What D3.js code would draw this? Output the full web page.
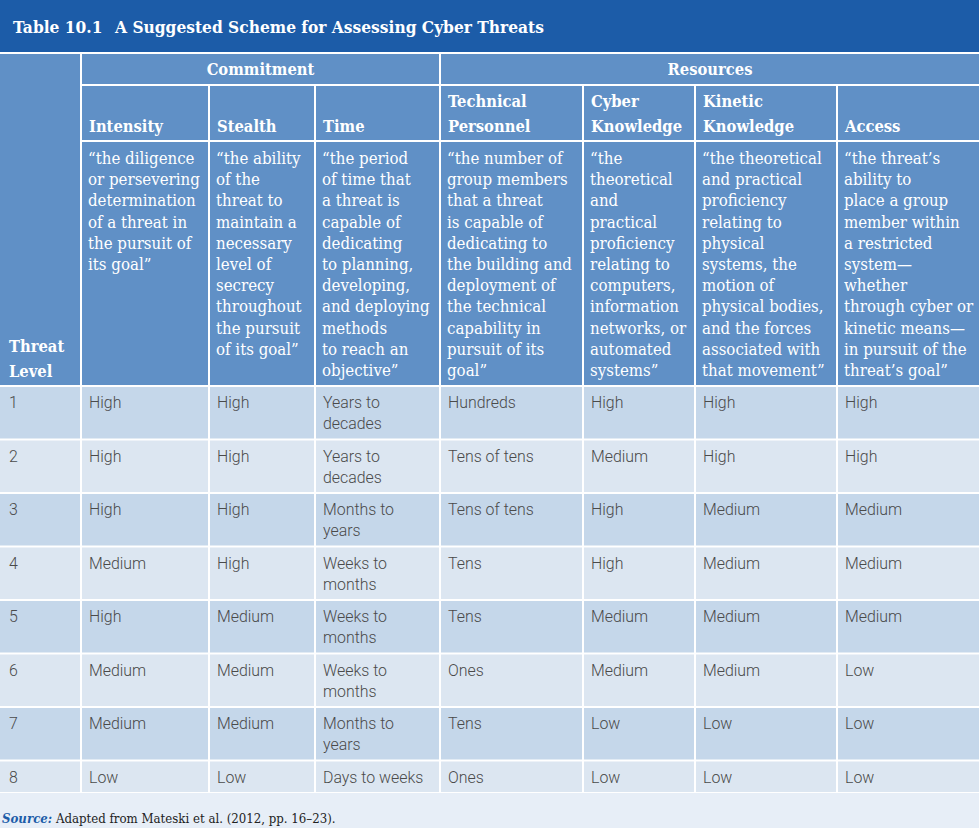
<!DOCTYPE html>
<html>
<head>
<meta charset="utf-8">
<script src="https://cdn.jsdelivr.net/npm/d3@7/dist/d3.min.js"></script>
<style>
  html, body { margin: 0; padding: 0; background: #fff; }
  svg { display: block; }
</style>
</head>
<body>
<svg id="chart" width="979" height="828"></svg>
<script>
// ---------------- DATA ----------------
const titleNumber = "Table 10.1";
const titleText = "A Suggested Scheme for Assessing Cyber Threats";
const sourceLabel = "Source:";
const sourceText = " Adapted from Mateski et al. (2012, pp. 16\u201323).";

const groups = [
  { name: "Commitment", from: 1, to: 3 },
  { name: "Resources", from: 4, to: 7 }
];
const columnKeys = ["level", "intensity", "stealth", "time", "technical", "cyber", "kinetic", "access"];
const columnLabels = [
  ["Threat", "Level"],
  ["Intensity"],
  ["Stealth"],
  ["Time"],
  ["Technical", "Personnel"],
  ["Cyber", "Knowledge"],
  ["Kinetic", "Knowledge"],
  ["Access"]
];
const descriptions = [
  [],
  ["\u201cthe diligence", "or persevering", "determination", "of a threat in", "the pursuit of", "its goal\u201d"],
  ["\u201cthe ability", "of the", "threat to", "maintain a", "necessary", "level of", "secrecy", "throughout", "the pursuit", "of its goal\u201d"],
  ["\u201cthe period", "of time that", "a threat is", "capable of", "dedicating", "to planning,", "developing,", "and deploying", "methods", "to reach an", "objective\u201d"],
  ["\u201cthe number of", "group members", "that a threat", "is capable of", "dedicating to", "the building and", "deployment of", "the technical", "capability in", "pursuit of its", "goal\u201d"],
  ["\u201cthe", "theoretical", "and", "practical", "proficiency", "relating to", "computers,", "information", "networks, or", "automated", "systems\u201d"],
  ["\u201cthe theoretical", "and practical", "proficiency", "relating to", "physical", "systems, the", "motion of", "physical bodies,", "and the forces", "associated with", "that movement\u201d"],
  ["\u201cthe threat\u2019s", "ability to", "place a group", "member within", "a restricted", "system\u2014", "whether", "through cyber or", "kinetic means\u2014", "in pursuit of the", "threat\u2019s goal\u201d"]
];

const level     = ["1", "2", "3", "4", "5", "6", "7", "8"];
const intensity = ["High", "High", "High", "Medium", "High", "Medium", "Medium", "Low"];
const stealth   = ["High", "High", "High", "High", "Medium", "Medium", "Medium", "Low"];
const time      = ["Years to decades", "Years to decades", "Months to years", "Weeks to months", "Weeks to months", "Weeks to months", "Months to years", "Days to weeks"];
const technical = ["Hundreds", "Tens of tens", "Tens of tens", "Tens", "Tens", "Ones", "Tens", "Ones"];
const cyber     = ["High", "Medium", "High", "High", "Medium", "Medium", "Low", "Low"];
const kinetic   = ["High", "High", "Medium", "Medium", "Medium", "Medium", "Low", "Low"];
const access    = ["High", "High", "Medium", "Medium", "Medium", "Low", "Low", "Low"];

// ---------------- LAYOUT / STYLE ----------------
const W = 979, H = 828;
const colWidths = [80, 128, 106, 125, 143, 112, 142, 143];
const gap = 2;
const C = {
  titleBg: "#1c5ca8",
  header: "#6090c6",
  odd: "#c5d7ea",
  even: "#dce6f1",
  page: "#e7eef7",
  text: "#4a4a4a",
  white: "#ffffff"
};
const serif = "'DejaVu Serif Condensed', 'DejaVu Serif', serif";
const sans = "Roboto, 'Liberation Sans', Arial, sans-serif";

const columns = columnKeys.map((k, i) => ({ key: k, i }));
const edges = [0, ...d3.cumsum(colWidths)];
const x = d3.scaleOrdinal().domain(columnKeys).range(edges.slice(0, -1));
const w = d3.scaleOrdinal().domain(columnKeys).range(colWidths);

const rows = level.map((l, i) => ({
  level: l, intensity: intensity[i], stealth: stealth[i], time: time[i],
  technical: technical[i], cyber: cyber[i], kinetic: kinetic[i], access: access[i]
}));

const svg = d3.select("#chart");
svg.append("rect").attr("width", W).attr("height", H).attr("fill", C.white);

// title bar
svg.append("rect").attr("x", 0).attr("y", 0).attr("width", W).attr("height", 52).attr("fill", C.titleBg);
const tt = svg.append("text").attr("x", 13).attr("y", 33)
  .attr("font-family", serif).attr("font-weight", "bold").attr("font-size", 17.2)
  .attr("fill", C.white);
tt.append("tspan").text(titleNumber);
tt.append("tspan").attr("x", 115).text(titleText);

const headTop = 54;
const row1Bottom = 84, row2Top = 86, row2Bottom = 140, row3Top = 142, headBottom = 385;
const fsLabel = 16.4, fsDesc = 16.7;

const g = svg.append("g");
g.append("rect").attr("x", 0).attr("y", headTop).attr("width", colWidths[0]).attr("height", headBottom - headTop).attr("fill", C.header);

groups.forEach(gr => {
  const x0 = edges[gr.from] + gap, x1 = edges[gr.to + 1];
  g.append("rect").attr("x", x0).attr("y", headTop).attr("width", x1 - x0).attr("height", row1Bottom - headTop).attr("fill", C.header);
  g.append("text").attr("x", (x0 + x1) / 2).attr("y", 75).attr("text-anchor", "middle")
    .attr("font-family", serif).attr("font-weight", "bold").attr("font-size", fsLabel).attr("fill", C.white).text(gr.name);
});

columns.slice(1).forEach(c => {
  const x0 = x(c.key) + gap, cw = w(c.key) - gap;
  g.append("rect").attr("x", x0).attr("y", row2Top).attr("width", cw).attr("height", row2Bottom - row2Top).attr("fill", C.header);
  g.append("rect").attr("x", x0).attr("y", row3Top).attr("width", cw).attr("height", headBottom - row3Top).attr("fill", C.header);
  const lab = columnLabels[c.i];
  lab.forEach((t, j) => {
    g.append("text").attr("x", x(c.key) + 9).attr("y", 132 - (lab.length - 1 - j) * 25)
      .attr("font-family", serif).attr("font-weight", "bold").attr("font-size", fsLabel).attr("fill", C.white).text(t);
  });
  descriptions[c.i].forEach((t, j) => {
    g.append("text").attr("x", x(c.key) + 8).attr("y", 164 + j * 21.2)
      .attr("font-family", serif).attr("font-size", fsDesc).attr("fill", C.white).text(t);
  });
});
columnLabels[0].forEach((t, j) => {
  g.append("text").attr("x", 9).attr("y", 377 - (columnLabels[0].length - 1 - j) * 25)
    .attr("font-family", serif).attr("font-weight", "bold").attr("font-size", fsLabel).attr("fill", C.white).text(t);
});

svg.append("rect").attr("x", 0).attr("y", 793).attr("width", W).attr("height", H - 793).attr("fill", C.page);

// body rows
const fontBody = 15.9, lineH = 21;
const measurer = svg.append("text").attr("font-family", sans).attr("font-weight", 300).attr("font-size", fontBody);
function wrap(str, maxW) {
  const words = str.split(" ");
  const lines = [];
  let cur = "";
  words.forEach(wd => {
    const test = cur ? cur + " " + wd : wd;
    measurer.text(test);
    if (cur && measurer.node().getComputedTextLength() > maxW) { lines.push(cur); cur = wd; }
    else cur = test;
  });
  if (cur) lines.push(cur);
  return lines;
}
const wrapped = rows.map(r => {
  const o = {};
  columnKeys.forEach(k => { o[k] = wrap(r[k], Math.min(w(k) - 18, 107)); });
  o.n = d3.max(columnKeys, k => o[k].length);
  return o;
});
measurer.remove();
const heights = wrapped.map(o => 9.5 + lineH * o.n);
const tops = heights.map((h, i) => 387 + d3.sum(heights.slice(0, i)) + gap * i);
const y = d3.scaleOrdinal().domain(level).range(tops);

rows.forEach((r, i) => {
  const rg = svg.append("g");
  columns.forEach(c => {
    const x0 = c.i === 0 ? 0 : x(c.key) + gap;
    const cw = c.i === 0 ? w(c.key) : w(c.key) - gap;
    rg.append("rect").attr("x", x0).attr("y", y(r.level)).attr("width", cw).attr("height", heights[i])
      .attr("fill", i % 2 === 0 ? C.odd : C.even);
    wrapped[i][c.key].forEach((t, j) => {
      rg.append("text").attr("x", x(c.key) + 9).attr("y", y(r.level) + 21 + j * lineH)
        .attr("font-family", sans).attr("font-weight", 300).attr("font-size", fontBody)
        .attr("fill", C.text).text(t);
    });
  });
});

// source
const st = svg.append("text").attr("x", 2).attr("y", 823).attr("font-family", serif).attr("font-size", 13.1).attr("fill", "#222");
st.append("tspan").attr("font-weight", "bold").attr("font-style", "italic").attr("fill", C.titleBg).text(sourceLabel);
st.append("tspan").attr("xml:space", "preserve").text(sourceText);
</script>
</body>
</html>
